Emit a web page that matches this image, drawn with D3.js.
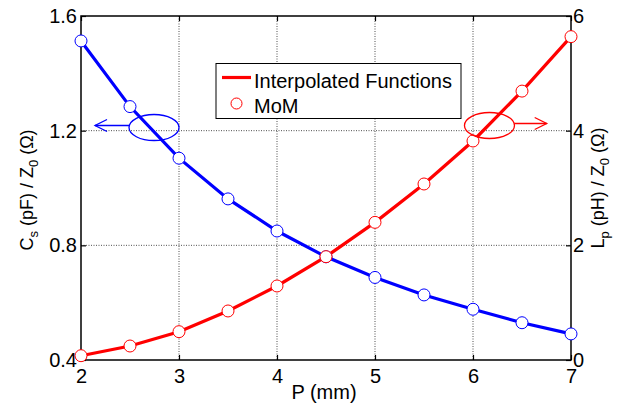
<!DOCTYPE html>
<html><head><meta charset="utf-8">
<script src="https://cdn.jsdelivr.net/npm/d3@7"></script>
<style>body{margin:0;background:#fff}text{font-family:"Liberation Sans",Arial,sans-serif}</style>
</head><body><svg id="c" width="631" height="404"></svg>
<script>
const P = [2, 2.5, 3, 3.5, 4, 4.5, 5, 5.5, 6, 6.5, 7];
const Cs = [1.513, 1.284, 1.104, 0.962, 0.850, 0.760, 0.688, 0.627, 0.577, 0.530, 0.491];
const Lp = [0.075, 0.244, 0.494, 0.855, 1.291, 1.802, 2.401, 3.07, 3.82, 4.69, 5.64];
const xTicks = [2, 3, 4, 5, 6, 7];
const yLeftTicks = [0.4, 0.8, 1.2, 1.6];
const yRightTicks = [0, 2, 4, 6];
const legendLabels = ["Interpolated Functions", "MoM"];
// annotations in data coords (x, left axis y): ellipse centre and arrow tip x
const blueNote = {cx: 2.745, cy: 1.211, endX: 2.143};
const redNote = {cx: 6.168, cy: 1.218, endX: 6.752};

const svg = d3.select("#c");
const L = 81, R = 571, T = 16, B = 360;
const x = d3.scaleLinear().domain([2, 7]).range([L, R]);
const yL = d3.scaleLinear().domain([0.4, 1.6]).range([B, T]);
const yR = d3.scaleLinear().domain([0, 6]).range([B, T]);
const blue = "#0000ff", red = "#ff0000";
const FS = 20;

// grid
const g = svg.append("g");
g.selectAll(".gx").data(xTicks.slice(1, -1)).enter().append("line")
  .attr("x1", d => x(d)).attr("x2", d => x(d)).attr("y1", T).attr("y2", B)
  .attr("stroke", "#222").attr("stroke-width", 0.8).attr("stroke-dasharray", "1,1.5");
g.selectAll(".gy").data(yLeftTicks.slice(1, -1)).enter().append("line")
  .attr("y1", d => yL(d)).attr("y2", d => yL(d)).attr("x1", L).attr("x2", R)
  .attr("stroke", "#222").attr("stroke-width", 0.8).attr("stroke-dasharray", "1,1.5");

// axes
const ax = svg.append("g");
function style(sel) {
  sel.select(".domain").remove();
  sel.selectAll("line").attr("stroke", "#000").attr("stroke-width", 1.2);
  sel.selectAll("text").attr("font-size", FS).attr("fill", "#000")
    .style("font-family", '"Liberation Sans",Arial,sans-serif');
}
ax.append("g").attr("transform", `translate(0,${B})`)
  .call(d3.axisBottom(x).tickValues(xTicks).tickFormat(d3.format("d")).tickSizeInner(-5).tickPadding(9)).call(style);
ax.append("g").attr("transform", `translate(0,${T})`)
  .call(d3.axisTop(x).tickValues(xTicks).tickFormat("").tickSizeInner(-5)).call(style);
ax.append("g").attr("transform", `translate(${L},0)`)
  .call(d3.axisLeft(yL).tickValues(yLeftTicks).tickFormat(d3.format(".1f")).tickSizeInner(-5).tickPadding(4)).call(style);
ax.append("g").attr("transform", `translate(${R},0)`)
  .call(d3.axisRight(yR).tickValues(yRightTicks).tickFormat(d3.format("d")).tickSizeInner(-5).tickPadding(2)).call(style);
svg.append("rect").attr("x", L).attr("y", T).attr("width", R - L).attr("height", B - T)
  .attr("fill", "none").attr("stroke", "#000").attr("stroke-width", 1.5);

// lines
const lineL = d3.line().x((d, i) => x(P[i])).y(d => yL(d));
const lineR = d3.line().x((d, i) => x(P[i])).y(d => yR(d));
svg.append("path").attr("d", lineL(Cs)).attr("fill", "none").attr("stroke", blue).attr("stroke-width", 3.2);
svg.append("path").attr("d", lineR(Lp)).attr("fill", "none").attr("stroke", red).attr("stroke-width", 3.2);
svg.selectAll(".cb").data(Cs).enter().append("circle")
  .attr("cx", (d, i) => x(P[i])).attr("cy", d => yL(d)).attr("r", 6)
  .attr("fill", "#fff").attr("stroke", blue).attr("stroke-width", 1);
svg.selectAll(".cr").data(Lp).enter().append("circle")
  .attr("cx", (d, i) => x(P[i])).attr("cy", d => yR(d)).attr("r", 6)
  .attr("fill", "#fff").attr("stroke", red).attr("stroke-width", 1);

// annotations
function note(n, color, dir) {
  const cx = x(n.cx), cy = yL(n.cy), rx = 25, ry = 13;
  svg.append("ellipse").attr("cx", cx).attr("cy", cy).attr("rx", rx).attr("ry", ry)
    .attr("fill", "none").attr("stroke", color).attr("stroke-width", 1.3);
  const x0 = cx + dir * rx, x1 = x(n.endX), ay = cy - 2;
  svg.append("line").attr("x1", x0).attr("x2", x1).attr("y1", ay).attr("y2", ay)
    .attr("stroke", color).attr("stroke-width", 1.3);
  svg.append("path").attr("d", `M${x1 - dir * 12},${ay - 6}L${x1},${ay}L${x1 - dir * 12},${ay + 6}`)
    .attr("fill", "none").attr("stroke", color).attr("stroke-width", 1.3);
}
note(blueNote, blue, -1);
note(redNote, red, 1);

// legend
const lg = svg.append("g");
lg.append("rect").attr("x", 216).attr("y", 63.5).attr("width", 245).attr("height", 55)
  .attr("fill", "#fff").attr("stroke", "#000").attr("stroke-width", 1);
lg.append("line").attr("x1", 222).attr("x2", 251).attr("y1", 77.5).attr("y2", 77.5)
  .attr("stroke", red).attr("stroke-width", 3.2);
lg.append("circle").attr("cx", 236.5).attr("cy", 103.5).attr("r", 5.5)
  .attr("fill", "#fff").attr("stroke", red).attr("stroke-width", 1);
lg.selectAll("text").data(legendLabels).enter().append("text")
  .attr("x", 254).attr("y", (d, i) => 88 + i * 25).attr("font-size", FS).text(d => d);

// axis labels
svg.append("text").attr("x", (L + R) / 2 - 2).attr("y", 399).attr("text-anchor", "middle")
  .attr("font-size", FS).text("P (mm)");
function ylab(tx, ty, main, sub) {
  const t = svg.append("text").attr("transform", `translate(${tx},${ty}) rotate(-90)`)
    .attr("text-anchor", "middle").attr("font-size", 18);
  t.append("tspan").text(main[0]);
  t.append("tspan").attr("font-size", 13).attr("dy", 5).text(sub[0]);
  t.append("tspan").attr("dy", -5).text(main[1]);
  t.append("tspan").attr("font-size", 13).attr("dy", 5).text(sub[1]);
  t.append("tspan").attr("dy", -5).text(main[2]);
}
ylab(33, 190, ["C", " (pF) / Z", " (\u03A9)"], ["s", "0"]);
ylab(604, 188, ["L", " (pH) / Z", " (\u03A9)"], ["p", "0"]);
</script></body></html>
